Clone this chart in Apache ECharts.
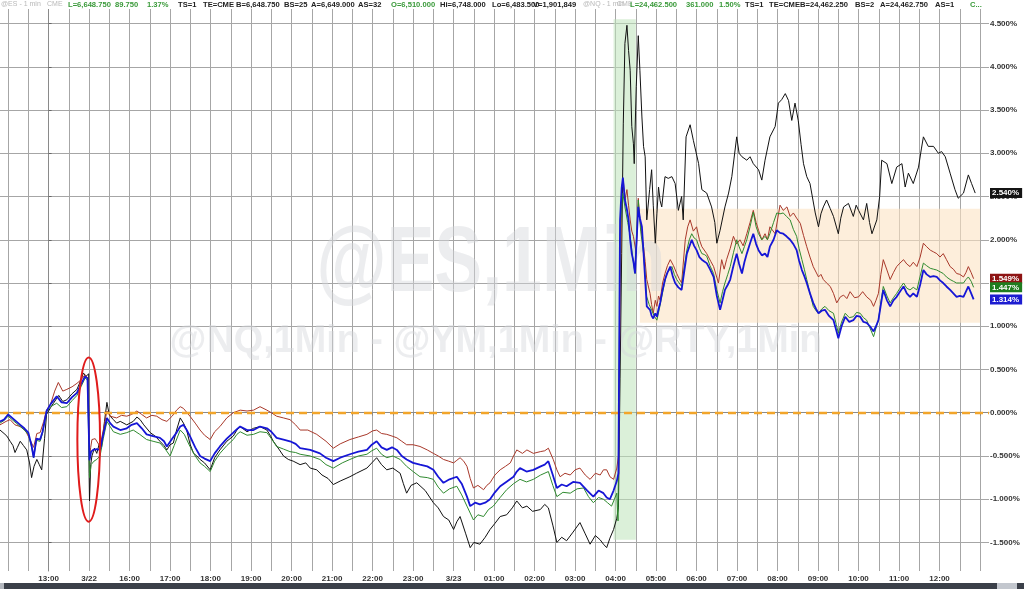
<!DOCTYPE html>
<html>
<head>
<meta charset="utf-8">
<script src="https://cdn.jsdelivr.net/npm/echarts@6/dist/echarts.min.js"></script>
<style>
html,body{margin:0;padding:0;background:#fff;}
#chart{width:1024px;height:589px;}
</style>
</head>
<body>
<div id="chart"></div>
<script>
// ---- axis labels / ticks ----
const hourLabels = ["13:00","3/22","16:00","17:00","18:00","19:00","20:00","21:00","22:00","23:00","3/23","01:00","02:00","03:00","04:00","05:00","06:00","07:00","08:00","09:00","10:00","11:00","12:00"];
const hourTicks = [0,1,2,3,4,5,6,7,8,9,10,11,12,13,14,15,16,17,18,19,20,21,22];
const halfHourTicks = [-1,-0.5,0,0.5,1,1.5,2,2.5,3,3.5,4,4.5,5,5.5,6,6.5,7,7.5,8,8.5,9,9.5,10,10.5,11,11.5,12,12.5,13,13.5,14,14.5,15,15.5,16,16.5,17,17.5,18,18.5,19,19.5,20,20.5,21,21.5,22,22.5,23];
const pctTicks = [-1.5,-1,-0.5,0,0.5,1,1.5,2,2.5,3,3.5,4,4.5];

// ---- series values: [hours from 13:00 of session, % change] ----
const blackSeries = [[-1.20,-0.20],[-1.10,-0.24],[-1.03,-0.27],[-0.95,-0.33],[-0.88,-0.38],[-0.83,-0.46],[-0.77,-0.40],[-0.70,-0.33],[-0.62,-0.38],[-0.54,-0.43],[-0.47,-0.58],[-0.42,-0.75],[-0.36,-0.62],[-0.29,-0.54],[-0.23,-0.60],[-0.17,-0.66],[-0.10,-0.30],[-0.05,-0.02],[0.05,0.06],[0.12,0.11],[0.25,0.20],[0.35,0.13],[0.45,0.15],[0.58,0.22],[0.70,0.27],[0.80,0.38],[0.86,0.46],[0.92,0.42],[0.96,0.40],[0.99,0.45],[1.00,-0.70],[1.01,-1.02],[1.04,-0.60],[1.07,-0.50],[1.13,-0.41],[1.19,-0.47],[1.25,-0.36],[1.31,-0.39],[1.38,-0.10],[1.44,0.12],[1.48,0.02],[1.52,-0.04],[1.60,-0.08],[1.68,-0.12],[1.77,-0.10],[1.93,-0.14],[2.09,-0.10],[2.18,-0.05],[2.26,-0.08],[2.35,-0.14],[2.51,-0.23],[2.63,-0.27],[2.75,-0.33],[2.85,-0.38],[2.92,-0.43],[3.00,-0.37],[3.08,-0.35],[3.16,-0.20],[3.25,-0.06],[3.33,-0.12],[3.41,-0.20],[3.49,-0.36],[3.58,-0.47],[3.66,-0.50],[3.74,-0.54],[3.85,-0.58],[3.99,-0.66],[4.10,-0.52],[4.23,-0.43],[4.40,-0.33],[4.56,-0.27],[4.65,-0.20],[4.73,-0.16],[4.90,-0.22],[5.06,-0.18],[5.22,-0.16],[5.39,-0.20],[5.47,-0.26],[5.55,-0.33],[5.70,-0.43],[5.80,-0.50],[5.92,-0.54],[6.04,-0.56],[6.21,-0.60],[6.35,-0.58],[6.46,-0.64],[6.62,-0.66],[6.75,-0.72],[6.90,-0.76],[7.03,-0.83],[7.20,-0.79],[7.44,-0.74],[7.60,-0.70],[7.86,-0.64],[7.98,-0.58],[8.10,-0.52],[8.22,-0.60],[8.35,-0.66],[8.50,-0.64],[8.68,-0.70],[8.76,-0.82],[8.84,-0.93],[8.95,-0.84],[9.09,-0.81],[9.30,-0.90],[9.50,-1.04],[9.62,-1.10],[9.75,-1.20],[9.88,-1.24],[10.00,-1.35],[10.08,-1.26],[10.16,-1.20],[10.30,-1.40],[10.41,-1.56],[10.50,-1.50],[10.65,-1.52],[10.78,-1.44],[10.90,-1.35],[11.02,-1.28],[11.15,-1.20],[11.31,-1.18],[11.45,-1.10],[11.56,-1.02],[11.70,-1.10],[11.81,-1.08],[11.95,-1.14],[12.14,-1.12],[12.25,-1.06],[12.34,-1.10],[12.45,-1.30],[12.55,-1.50],[12.67,-1.44],[12.79,-1.48],[12.95,-1.38],[13.12,-1.27],[13.25,-1.40],[13.37,-1.52],[13.50,-1.42],[13.62,-1.47],[13.70,-1.52],[13.78,-1.56],[13.86,-1.45],[13.95,-1.35],[14.03,-1.22],[14.07,-1.10],[14.11,0.40],[14.15,1.84],[14.19,3.34],[14.23,4.27],[14.28,4.48],[14.32,4.19],[14.36,3.96],[14.40,3.31],[14.44,3.11],[14.46,2.88],[14.51,3.77],[14.56,4.36],[14.60,3.96],[14.65,3.42],[14.69,3.08],[14.73,2.96],[14.77,2.23],[14.84,2.58],[14.89,2.81],[14.93,2.40],[14.98,1.96],[15.02,2.30],[15.06,2.61],[15.10,2.45],[15.14,2.38],[15.22,2.73],[15.30,2.71],[15.39,2.73],[15.47,2.65],[15.55,2.34],[15.63,2.50],[15.67,2.23],[15.74,3.19],[15.84,3.33],[15.92,3.15],[16.05,2.88],[16.13,2.58],[16.25,2.54],[16.37,2.38],[16.45,2.20],[16.50,1.96],[16.58,2.11],[16.70,2.38],[16.79,2.54],[16.87,2.73],[16.99,3.19],[17.05,3.00],[17.12,2.96],[17.24,2.92],[17.32,2.96],[17.40,2.88],[17.53,2.81],[17.61,2.69],[17.69,2.92],[17.81,3.19],[17.94,3.31],[18.02,3.58],[18.10,3.62],[18.19,3.69],[18.27,3.61],[18.35,3.38],[18.43,3.58],[18.51,3.38],[18.58,3.10],[18.64,2.88],[18.72,2.73],[18.80,2.65],[18.93,2.31],[19.01,2.15],[19.07,2.30],[19.13,2.38],[19.21,2.46],[19.30,2.36],[19.38,2.27],[19.50,2.07],[19.56,2.25],[19.63,2.38],[19.75,2.42],[19.87,2.27],[19.94,2.40],[20.00,2.34],[20.12,2.23],[20.20,2.42],[20.27,2.20],[20.33,2.07],[20.45,2.23],[20.52,2.50],[20.57,2.92],[20.70,2.88],[20.82,2.65],[20.94,2.84],[21.07,2.88],[21.15,2.61],[21.23,2.77],[21.35,2.65],[21.48,2.84],[21.55,3.05],[21.60,3.19],[21.72,3.08],[21.85,3.08],[21.97,3.00],[22.05,3.02],[22.14,2.96],[22.26,2.77],[22.38,2.58],[22.46,2.48],[22.59,2.54],[22.71,2.75],[22.79,2.65],[22.88,2.54]];

const redSeries = [[-1.20,-0.14],[-1.05,-0.10],[-0.95,-0.08],[-0.83,-0.14],[-0.70,-0.16],[-0.58,-0.20],[-0.46,-0.31],[-0.37,-0.40],[-0.29,-0.24],[-0.21,-0.23],[-0.12,-0.10],[-0.05,0.03],[0.05,0.10],[0.15,0.25],[0.24,0.35],[0.35,0.25],[0.45,0.27],[0.58,0.30],[0.70,0.34],[0.80,0.38],[0.90,0.44],[0.96,0.40],[0.99,0.42],[1.01,-0.50],[1.04,-0.40],[1.07,-0.31],[1.15,-0.30],[1.27,-0.39],[1.35,-0.20],[1.44,0.02],[1.52,-0.04],[1.68,-0.06],[1.80,-0.03],[1.93,-0.04],[2.05,-0.02],[2.18,0.02],[2.30,-0.02],[2.42,-0.06],[2.55,-0.03],[2.67,-0.04],[2.80,-0.08],[2.92,-0.10],[3.05,-0.04],[3.16,0.03],[3.25,0.07],[3.33,0.05],[3.49,-0.04],[3.62,-0.12],[3.74,-0.20],[3.85,-0.26],[3.99,-0.31],[4.10,-0.22],[4.23,-0.16],[4.40,-0.06],[4.56,0.00],[4.73,0.03],[4.90,0.02],[5.06,0.03],[5.22,0.07],[5.39,0.03],[5.50,0.00],[5.63,-0.04],[5.80,-0.06],[5.96,-0.08],[6.10,-0.14],[6.21,-0.20],[6.40,-0.20],[6.62,-0.25],[6.85,-0.33],[7.03,-0.41],[7.20,-0.36],[7.44,-0.31],[7.65,-0.28],[7.86,-0.25],[8.00,-0.21],[8.10,-0.20],[8.22,-0.24],[8.35,-0.25],[8.48,-0.27],[8.60,-0.29],[8.72,-0.33],[8.84,-0.37],[9.00,-0.37],[9.17,-0.39],[9.35,-0.43],[9.50,-0.47],[9.62,-0.50],[9.75,-0.54],[9.88,-0.56],[10.00,-0.58],[10.08,-0.55],[10.16,-0.52],[10.25,-0.56],[10.33,-0.62],[10.41,-0.76],[10.49,-0.87],[10.60,-0.84],[10.74,-0.89],[10.82,-0.84],[10.90,-0.81],[11.02,-0.72],[11.15,-0.66],[11.28,-0.62],[11.40,-0.58],[11.48,-0.50],[11.56,-0.43],[11.70,-0.47],[11.81,-0.43],[11.97,-0.47],[12.14,-0.45],[12.25,-0.44],[12.34,-0.41],[12.46,-0.54],[12.55,-0.66],[12.63,-0.74],[12.75,-0.70],[12.88,-0.72],[13.00,-0.66],[13.12,-0.64],[13.25,-0.72],[13.37,-0.77],[13.50,-0.70],[13.62,-0.72],[13.70,-0.66],[13.78,-0.66],[13.86,-0.74],[13.95,-0.77],[14.03,-0.64],[14.07,-0.50],[14.11,1.20],[14.15,2.61],[14.19,2.69],[14.23,2.46],[14.28,2.58],[14.32,2.40],[14.36,2.23],[14.40,2.10],[14.44,2.04],[14.51,1.84],[14.56,2.48],[14.60,2.23],[14.65,2.05],[14.69,1.92],[14.73,1.75],[14.77,1.54],[14.85,1.38],[14.89,1.25],[14.93,1.15],[14.98,1.30],[15.02,1.23],[15.06,1.35],[15.10,1.30],[15.16,1.50],[15.22,1.61],[15.28,1.70],[15.35,1.77],[15.43,1.70],[15.51,1.61],[15.57,1.55],[15.63,1.50],[15.72,2.00],[15.78,2.15],[15.84,2.23],[15.92,2.10],[16.00,2.15],[16.07,2.00],[16.13,1.92],[16.25,1.84],[16.35,1.75],[16.42,1.69],[16.54,1.50],[16.62,1.77],[16.68,1.66],[16.74,1.77],[16.83,1.90],[16.91,2.04],[16.99,1.95],[17.07,2.00],[17.15,1.93],[17.24,2.07],[17.32,2.20],[17.40,2.34],[17.47,2.20],[17.53,2.11],[17.61,2.00],[17.69,2.07],[17.75,2.00],[17.81,2.15],[17.94,2.07],[18.06,2.40],[18.14,2.34],[18.23,2.38],[18.31,2.27],[18.39,2.31],[18.47,2.25],[18.56,2.19],[18.64,2.05],[18.72,1.92],[18.80,1.80],[18.88,1.69],[19.01,1.57],[19.07,1.60],[19.13,1.54],[19.21,1.50],[19.30,1.46],[19.38,1.38],[19.46,1.27],[19.55,1.34],[19.63,1.36],[19.71,1.32],[19.79,1.40],[19.90,1.33],[20.00,1.34],[20.10,1.40],[20.20,1.34],[20.30,1.30],[20.37,1.23],[20.43,1.30],[20.49,1.38],[20.55,1.60],[20.61,1.77],[20.70,1.65],[20.78,1.54],[20.86,1.62],[20.94,1.69],[21.02,1.73],[21.11,1.77],[21.19,1.72],[21.27,1.69],[21.35,1.74],[21.44,1.69],[21.52,1.80],[21.60,1.96],[21.68,1.92],[21.77,1.88],[21.85,1.86],[21.93,1.84],[22.01,1.80],[22.09,1.84],[22.17,1.77],[22.26,1.69],[22.34,1.66],[22.42,1.61],[22.50,1.60],[22.59,1.57],[22.65,1.62],[22.71,1.69],[22.78,1.62],[22.84,1.55]];

const greenSeries = [[-1.20,-0.12],[-1.10,-0.09],[-1.00,-0.04],[-0.90,-0.08],[-0.80,-0.12],[-0.70,-0.16],[-0.60,-0.20],[-0.50,-0.25],[-0.42,-0.40],[-0.37,-0.52],[-0.30,-0.32],[-0.21,-0.33],[-0.15,-0.24],[-0.05,0.01],[0.05,0.07],[0.20,0.11],[0.32,0.06],[0.45,0.07],[0.58,0.14],[0.70,0.20],[0.80,0.30],[0.90,0.40],[0.96,0.38],[0.99,0.40],[1.01,-0.75],[1.05,-0.60],[1.12,-0.56],[1.19,-0.54],[1.27,-0.50],[1.35,-0.30],[1.44,-0.10],[1.52,-0.16],[1.60,-0.22],[1.77,-0.25],[1.93,-0.23],[2.09,-0.20],[2.25,-0.25],[2.42,-0.31],[2.58,-0.33],[2.75,-0.35],[2.88,-0.42],[3.00,-0.50],[3.10,-0.38],[3.25,-0.20],[3.35,-0.25],[3.49,-0.39],[3.62,-0.50],[3.74,-0.58],[3.85,-0.62],[3.99,-0.68],[4.10,-0.56],[4.23,-0.47],[4.40,-0.38],[4.56,-0.31],[4.65,-0.25],[4.73,-0.22],[4.90,-0.26],[5.06,-0.25],[5.22,-0.22],[5.39,-0.23],[5.50,-0.30],[5.63,-0.39],[5.80,-0.42],[5.96,-0.45],[6.10,-0.46],[6.21,-0.48],[6.46,-0.50],[6.70,-0.54],[6.85,-0.60],[7.03,-0.64],[7.25,-0.58],[7.44,-0.54],[7.65,-0.50],[7.86,-0.48],[7.98,-0.44],[8.10,-0.41],[8.22,-0.48],[8.35,-0.52],[8.50,-0.50],[8.68,-0.54],[8.84,-0.62],[9.00,-0.68],[9.17,-0.74],[9.35,-0.75],[9.50,-0.77],[9.62,-0.86],[9.75,-0.93],[9.90,-0.88],[10.08,-0.85],[10.20,-0.95],[10.33,-1.08],[10.41,-1.16],[10.49,-1.24],[10.60,-1.18],[10.74,-1.20],[10.86,-1.12],[10.98,-1.08],[11.15,-0.98],[11.31,-0.89],[11.48,-0.82],[11.64,-0.77],[11.80,-0.80],[11.97,-0.77],[12.15,-0.72],[12.34,-0.68],[12.45,-0.84],[12.55,-0.97],[12.70,-0.92],[12.88,-0.93],[13.05,-0.88],[13.21,-0.87],[13.33,-0.97],[13.45,-1.04],[13.58,-0.98],[13.70,-1.00],[13.80,-1.04],[13.90,-1.08],[13.97,-1.00],[14.03,-0.93],[14.06,-1.25],[14.09,0.50],[14.11,2.04],[14.15,2.40],[14.18,2.54],[14.23,2.38],[14.30,2.20],[14.36,2.04],[14.42,1.80],[14.48,1.61],[14.52,2.05],[14.56,2.46],[14.62,2.10],[14.69,1.84],[14.73,1.60],[14.77,1.34],[14.83,1.25],[14.89,1.19],[14.95,1.12],[15.02,1.07],[15.08,1.20],[15.14,1.34],[15.20,1.48],[15.26,1.61],[15.33,1.65],[15.39,1.69],[15.45,1.60],[15.51,1.54],[15.57,1.50],[15.63,1.46],[15.70,1.70],[15.76,1.88],[15.82,2.00],[15.88,2.07],[15.94,2.02],[16.00,2.00],[16.07,1.90],[16.13,1.84],[16.19,1.83],[16.25,1.81],[16.33,1.70],[16.42,1.61],[16.50,1.42],[16.58,1.27],[16.64,1.40],[16.70,1.50],[16.77,1.60],[16.83,1.69],[16.91,1.85],[16.99,2.00],[17.05,1.92],[17.12,1.84],[17.18,1.92],[17.24,2.00],[17.32,2.15],[17.40,2.32],[17.47,2.15],[17.53,2.07],[17.61,2.00],[17.69,2.04],[17.75,2.00],[17.81,2.07],[17.90,2.20],[17.98,2.31],[18.06,2.30],[18.14,2.31],[18.22,2.27],[18.31,2.23],[18.39,2.12],[18.47,2.04],[18.53,1.90],[18.60,1.77],[18.66,1.66],[18.72,1.54],[18.80,1.38],[18.88,1.23],[18.95,1.18],[19.01,1.15],[19.09,1.20],[19.17,1.23],[19.27,1.18],[19.38,1.15],[19.45,1.02],[19.50,0.92],[19.58,1.05],[19.67,1.15],[19.77,1.10],[19.87,1.11],[19.95,1.16],[20.04,1.15],[20.12,1.10],[20.20,1.07],[20.28,0.98],[20.37,0.88],[20.43,0.98],[20.49,1.07],[20.55,1.28],[20.61,1.46],[20.70,1.35],[20.78,1.27],[20.86,1.33],[20.94,1.38],[21.02,1.44],[21.11,1.50],[21.19,1.44],[21.27,1.42],[21.35,1.45],[21.44,1.42],[21.52,1.58],[21.60,1.73],[21.68,1.70],[21.77,1.67],[21.85,1.66],[21.93,1.65],[22.01,1.63],[22.09,1.61],[22.17,1.57],[22.26,1.54],[22.34,1.52],[22.42,1.50],[22.50,1.50],[22.59,1.50],[22.65,1.54],[22.71,1.57],[22.78,1.52],[22.84,1.45]];

const blueSeries = [[-1.20,-0.10],[-1.10,-0.08],[-1.00,-0.02],[-0.90,-0.06],[-0.80,-0.10],[-0.70,-0.14],[-0.60,-0.18],[-0.50,-0.23],[-0.42,-0.38],[-0.37,-0.52],[-0.30,-0.30],[-0.21,-0.31],[-0.15,-0.22],[-0.05,0.02],[0.05,0.10],[0.20,0.19],[0.32,0.12],[0.45,0.11],[0.58,0.18],[0.70,0.23],[0.80,0.33],[0.90,0.42],[0.96,0.40],[0.99,0.42],[1.01,-0.55],[1.05,-0.45],[1.10,-0.43],[1.19,-0.42],[1.27,-0.43],[1.35,-0.25],[1.44,-0.06],[1.52,-0.12],[1.60,-0.16],[1.77,-0.20],[1.93,-0.18],[2.05,-0.14],[2.18,-0.12],[2.30,-0.18],[2.42,-0.25],[2.58,-0.27],[2.75,-0.29],[2.85,-0.33],[2.92,-0.39],[3.05,-0.30],[3.16,-0.23],[3.25,-0.16],[3.33,-0.14],[3.41,-0.20],[3.49,-0.27],[3.62,-0.40],[3.74,-0.50],[3.85,-0.53],[3.99,-0.56],[4.10,-0.47],[4.23,-0.39],[4.40,-0.30],[4.56,-0.23],[4.65,-0.19],[4.73,-0.16],[4.90,-0.20],[5.06,-0.20],[5.22,-0.16],[5.39,-0.18],[5.50,-0.22],[5.63,-0.29],[5.80,-0.31],[5.96,-0.33],[6.10,-0.36],[6.21,-0.41],[6.46,-0.43],[6.70,-0.47],[6.85,-0.52],[7.03,-0.56],[7.20,-0.52],[7.44,-0.48],[7.65,-0.45],[7.86,-0.43],[7.98,-0.37],[8.10,-0.33],[8.22,-0.40],[8.35,-0.43],[8.48,-0.40],[8.60,-0.43],[8.72,-0.50],[8.84,-0.54],[9.00,-0.58],[9.17,-0.60],[9.35,-0.62],[9.50,-0.66],[9.62,-0.74],[9.75,-0.81],[9.90,-0.77],[10.08,-0.74],[10.20,-0.82],[10.33,-0.97],[10.41,-1.08],[10.53,-1.04],[10.65,-1.06],[10.78,-1.04],[10.90,-1.00],[11.02,-0.92],[11.15,-0.85],[11.30,-0.80],[11.48,-0.74],[11.56,-0.68],[11.64,-0.64],[11.80,-0.68],[11.97,-0.66],[12.15,-0.62],[12.25,-0.60],[12.34,-0.56],[12.45,-0.72],[12.55,-0.87],[12.67,-0.83],[12.79,-0.85],[12.95,-0.80],[13.12,-0.81],[13.30,-0.90],[13.45,-0.97],[13.58,-0.90],[13.70,-0.93],[13.78,-0.98],[13.86,-1.00],[13.95,-0.90],[14.03,-0.79],[14.07,-0.70],[14.09,0.80],[14.11,2.23],[14.15,2.60],[14.18,2.72],[14.23,2.46],[14.28,2.35],[14.32,2.23],[14.36,2.00],[14.40,1.84],[14.44,1.75],[14.48,1.61],[14.52,2.00],[14.56,2.38],[14.60,2.25],[14.65,2.15],[14.69,1.85],[14.73,1.54],[14.77,1.23],[14.81,1.25],[14.85,1.19],[14.89,1.12],[14.93,1.09],[14.98,1.15],[15.02,1.11],[15.06,1.20],[15.10,1.27],[15.16,1.42],[15.22,1.54],[15.28,1.62],[15.35,1.69],[15.41,1.58],[15.47,1.50],[15.55,1.45],[15.63,1.42],[15.70,1.65],[15.76,1.84],[15.82,1.92],[15.88,2.00],[15.94,1.93],[16.00,1.88],[16.07,1.80],[16.13,1.77],[16.19,1.75],[16.25,1.73],[16.33,1.66],[16.42,1.57],[16.50,1.35],[16.58,1.19],[16.64,1.30],[16.70,1.42],[16.77,1.48],[16.83,1.54],[16.91,1.70],[16.99,1.84],[17.05,1.72],[17.12,1.61],[17.18,1.74],[17.24,1.84],[17.32,1.96],[17.40,2.07],[17.47,1.95],[17.53,1.88],[17.61,1.82],[17.69,1.84],[17.75,1.80],[17.81,1.92],[17.90,2.00],[17.98,2.11],[18.06,2.08],[18.14,2.07],[18.22,2.04],[18.31,2.00],[18.39,1.95],[18.47,1.88],[18.53,1.76],[18.60,1.65],[18.66,1.58],[18.72,1.50],[18.80,1.38],[18.88,1.27],[18.95,1.20],[19.01,1.15],[19.09,1.18],[19.17,1.19],[19.27,1.12],[19.38,1.07],[19.45,0.95],[19.50,0.86],[19.58,1.00],[19.67,1.11],[19.77,1.05],[19.87,1.07],[19.95,1.12],[20.04,1.11],[20.12,1.05],[20.20,1.04],[20.28,1.00],[20.37,0.94],[20.43,1.00],[20.49,1.07],[20.55,1.25],[20.61,1.42],[20.70,1.30],[20.78,1.23],[20.86,1.30],[20.94,1.34],[21.02,1.40],[21.11,1.46],[21.19,1.38],[21.27,1.34],[21.35,1.38],[21.44,1.34],[21.52,1.48],[21.60,1.65],[21.68,1.60],[21.77,1.57],[21.85,1.58],[21.93,1.57],[22.01,1.53],[22.09,1.50],[22.17,1.46],[22.26,1.42],[22.34,1.38],[22.42,1.34],[22.50,1.35],[22.59,1.34],[22.65,1.40],[22.71,1.46],[22.78,1.38],[22.84,1.31]];

const lastValues = [2.540, 1.549, 1.447, 1.314];   // black, red, green, blue
const lastLabels = ["2.540%", "1.549%", "1.447%", "1.314%"];

// annotation regions (in data units)
const openBand = [[13.95, -1.47], [14.50, 4.55]];
const rangeBox = [[14.60, 1.04], [23.00, 2.36]];
const circled = { t: 0.99, top: 0.64, bottom: -1.26, halfWidth: 0.28 };

// header text
const headerSegments = [
  ["@ES - 1 min", 1, "#b8b8b8"], ["CME", 47, "#b8b8b8"],
  ["L=6,648.750", 68, "#3a9a3a"], ["89.750", 115, "#3a9a3a"], ["1.37%", 147, "#3a9a3a"],
  ["TS=1", 178, "#222"], ["TE=CME", 203, "#222"], ["B=6,648.750", 236, "#222"], ["BS=25", 284, "#222"],
  ["A=6,649.000", 311, "#222"], ["AS=32", 358, "#222"], ["O=6,510.000", 391, "#3a9a3a"],
  ["Hi=6,748.000", 440, "#222"], ["Lo=6,483.500", 492, "#222"], ["V=1,901,849", 533, "#222"],
  ["@NQ - 1 min", 583, "#b8b8b8"], ["CME", 617, "#b8b8b8"],
  ["L=24,462.500", 630, "#3a9a3a"], ["361.000", 686, "#3a9a3a"], ["1.50%", 719, "#3a9a3a"],
  ["TS=1", 745, "#222"], ["TE=CME", 769, "#222"], ["B=24,462.250", 800, "#222"], ["BS=2", 855, "#222"],
  ["A=24,462.750", 880, "#222"], ["AS=1", 935, "#222"], ["C...", 970, "#3a9a3a"]
];

const X_MIN = -1.2, X_MAX = 23.22, Y_MIN = -1.83, Y_MAX = 4.68;

const chart = echarts.init(document.getElementById('chart'), null, {renderer: 'canvas'});

const lineColors = ['#111111', '#a8382a', '#2f8a2f', '#1616d6'];
const boxColors = ['#141414', '#8e1414', '#1f7d1f', '#1c1cd0'];
const lineWidths = [1, 1, 1, 1.8];
const seriesData = [blackSeries, redSeries, greenSeries, blueSeries];
const names = ['black', 'red', 'green', 'blue'];

const series = seriesData.map((d, i) => {
  const s = {
    name: names[i], type: 'line', data: d, showSymbol: false, symbol: 'none',
    lineStyle: {color: lineColors[i], width: lineWidths[i]},
    itemStyle: {color: lineColors[i]},
    z: 3 + i, animation: false, silent: true,
    markLine: {
      symbol: 'none', silent: true, animation: false,
      data: [{
        yAxis: lastValues[i],
        lineStyle: {color: 'rgba(0,0,0,0)', width: 0.01, opacity: 1},
        label: {show: true, position: 'end', distance: 1, formatter: lastLabels[i], opacity: 1,
          backgroundColor: boxColors[i], color: '#fff', fontSize: 8, fontWeight: 'bold',
          fontFamily: 'Liberation Sans, Arial, sans-serif', padding: [1, 3, 1, 2]}
      }]
    }
  };
  if (i === 0) {
    s.markArea = {
      silent: true, animation: false,
      data: [
        [{coord: openBand[0], itemStyle: {color: 'rgba(190,228,185,0.55)'}}, {coord: openBand[1]}],
        [{coord: rangeBox[0], itemStyle: {color: 'rgba(252,226,195,0.6)'}}, {coord: rangeBox[1]}]
      ]
    };
    s.markLine.data.push({
      yAxis: 0,
      lineStyle: {color: '#f2a52a', type: [8, 5], width: 2.4, opacity: 1},
      label: {show: false}
    });
  }
  return s;
});

const axisFont = {fontSize: 8, fontWeight: 'bold', color: '#333', fontFamily: 'Liberation Sans, Arial, sans-serif'};

chart.setOption({
  animation: false,
  backgroundColor: '#ffffff',
  grid: {left: 0, right: 35, top: 8, bottom: 18, containLabel: false},
  xAxis: {
    type: 'value', min: X_MIN, max: X_MAX,
    axisLine: {show: true, lineStyle: {color: '#8a8a8a', width: 1}},
    axisTick: {show: true, customValues: halfHourTicks, length: 3, lineStyle: {color: '#8a8a8a'}},
    axisLabel: Object.assign({customValues: hourTicks, margin: 4,
      formatter: v => hourLabels[Math.round(v)]}, axisFont),
    splitLine: {show: true, lineStyle: {color: '#a6a6a6', width: 1}}
  },
  yAxis: {
    type: 'value', position: 'right', min: Y_MIN, max: Y_MAX,
    axisLine: {show: true, lineStyle: {color: '#8a8a8a', width: 1}},
    axisTick: {show: true, customValues: pctTicks, length: 3, lineStyle: {color: '#666'}},
    axisLabel: Object.assign({customValues: pctTicks, margin: 1,
      formatter: v => v.toFixed(3) + '%'}, axisFont),
    splitLine: {show: true, lineStyle: {color: '#a6a6a6', width: 1}}
  },
  series: series
});

// ---- overlay graphics: watermark, header, circled annotation, scrollbar ----
const c = chart.convertToPixel({gridIndex: 0}, [circled.t, (circled.top + circled.bottom) / 2]);
const cTop = chart.convertToPixel({gridIndex: 0}, [circled.t, circled.top]);
const cRight = chart.convertToPixel({gridIndex: 0}, [circled.t + circled.halfWidth, circled.top]);

const graphics = [
  {type: 'text', z: 1, silent: true, x: 491, y: 266, scaleX: 0.78,
   style: {text: '@ES,1Min', font: 'bold 92px "Liberation Sans", Arial, sans-serif',
     fill: 'rgba(212,214,220,0.45)', align: 'center', verticalAlign: 'middle'}},
  {type: 'text', z: 1, silent: true, x: 496, y: 341, scaleX: 0.97,
   style: {text: '@NQ,1Min - @YM,1Min - @RTY,1Min', font: 'bold 39px "Liberation Sans", Arial, sans-serif',
     fill: 'rgba(212,214,220,0.45)', align: 'center', verticalAlign: 'middle'}},
  {type: 'ellipse', z: 50, silent: true,
   shape: {cx: c[0], cy: c[1], rx: cRight[0] - c[0], ry: c[1] - cTop[1]},
   style: {fill: 'none', stroke: '#e01b1b', lineWidth: 2}},
  {type: 'rect', z: 50, silent: true, shape: {x: 0, y: 0, width: 1024, height: 9}, style: {fill: '#ffffff'}},
  {type: 'rect', z: 60, silent: true, shape: {x: 0, y: 583, width: 1024, height: 6}, style: {fill: '#3b4049'}},
  {type: 'rect', z: 61, silent: true, shape: {x: 0, y: 583, width: 4, height: 6}, style: {fill: '#b3b7be'}},
  {type: 'rect', z: 61, silent: true, shape: {x: 997, y: 583, width: 20, height: 6}, style: {fill: '#c3c7ce'}}
];
headerSegments.forEach(seg => {
  const gray = seg[2] === '#b8b8b8';
  graphics.push({type: 'text', z: 55, silent: true, x: seg[1], y: 4.5,
    style: {text: seg[0], fill: seg[2],
      font: (gray ? 'normal 7px' : 'bold 7.6px') + ' "Liberation Sans", Arial, sans-serif',
      align: 'left', verticalAlign: 'middle'}});
});
chart.setOption({graphic: graphics});
</script>
</body>
</html>
